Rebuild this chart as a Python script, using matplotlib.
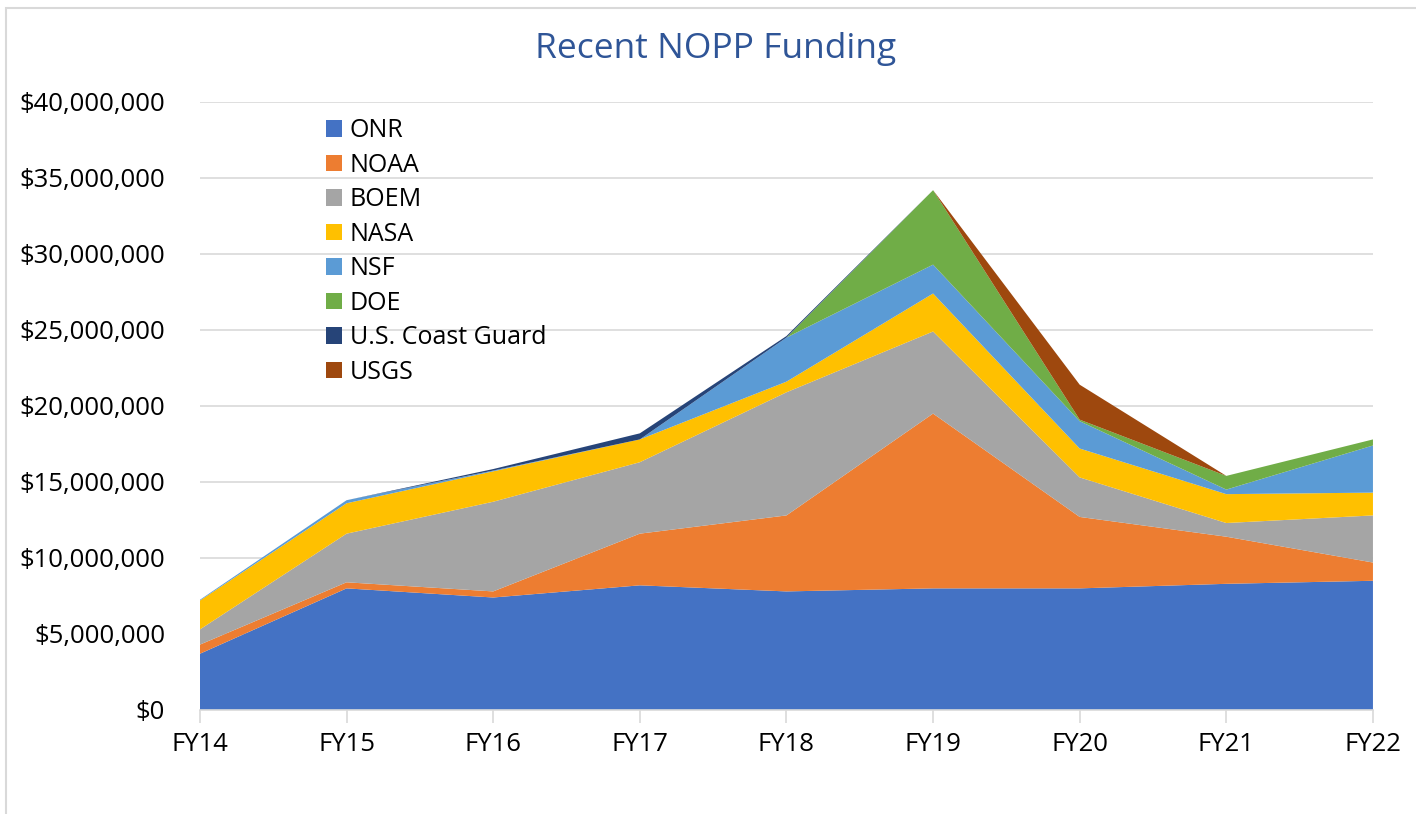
import matplotlib.pyplot as plt
from matplotlib.ticker import FuncFormatter, MultipleLocator
from matplotlib.patches import Rectangle

plt.rcParams['font.family'] = ['Open Sans', 'DejaVu Sans']

years = ['FY14', 'FY15', 'FY16', 'FY17', 'FY18', 'FY19', 'FY20', 'FY21', 'FY22']

# funding per agency, millions of dollars
onr = [3.7, 8.0, 7.4, 8.2, 7.8, 8.0, 8.0, 8.3, 8.5]
noaa = [0.6, 0.4, 0.4, 3.4, 5.0, 11.5, 4.7, 3.1, 1.2]
boem = [1.0, 3.2, 5.9, 4.7, 8.1, 5.4, 2.6, 0.9, 3.1]
nasa = [1.9, 2.0, 2.0, 1.5, 0.7, 2.5, 1.9, 1.9, 1.5]
nsf = [0.05, 0.2, 0.05, 0.0, 2.9, 1.9, 1.8, 0.3, 3.1]
doe = [0.0, 0.0, 0.0, 0.0, 0.0, 4.9, 0.1, 0.9, 0.4]
uscg = [0.0, 0.0, 0.1, 0.4, 0.1, 0.0, 0.0, 0.0, 0.0]
usgs = [0.0, 0.0, 0.0, 0.0, 0.0, 0.0, 2.3, 0.0, 0.0]

labels = ['ONR', 'NOAA', 'BOEM', 'NASA', 'NSF', 'DOE', 'U.S. Coast Guard', 'USGS']
colors = ['#4472C4', '#ED7D31', '#A5A5A5', '#FFC000', '#5B9BD5', '#70AD47', '#264478', '#9E480E']

series = [onr, noaa, boem, nasa, nsf, doe, uscg, usgs]
series = [[v * 1e6 for v in s] for s in series]
x = list(range(len(years)))

fig = plt.figure(figsize=(14.16, 8.14), dpi=100)
fig.patches.append(Rectangle((0.004, -0.01), 1.2, 1.0, transform=fig.transFigure,
                             fill=False, edgecolor='#D9D9D9', linewidth=1.5))
ax = fig.add_axes([0.1412, 0.1278, 0.8284, 0.7469])

ax.stackplot(x, *series, labels=labels, colors=colors, linewidth=0, zorder=2)

ax.set_xlim(0, 8)
ax.set_ylim(0, 40e6)
ax.yaxis.set_major_locator(MultipleLocator(5e6))
ax.yaxis.set_major_formatter(FuncFormatter(lambda v, p: '${:,.0f}'.format(v)))
ax.set_xticks(x)
ax.set_xticklabels(years)
ax.grid(axis='y', color='#D9D9D9', linewidth=1.2, zorder=0)
ax.set_axisbelow(True)

for s in ['top', 'right', 'left']:
    ax.spines[s].set_visible(False)
ax.spines['bottom'].set_color('#D9D9D9')
ax.spines['bottom'].set_linewidth(1.2)
ax.tick_params(axis='y', length=0, labelsize=18.5, pad=25, colors='black')
ax.tick_params(axis='x', length=9, width=1.2, color='#D9D9D9', labelsize=18.5, pad=7)

fig.text(0.505, 0.94, 'Recent NOPP Funding', ha='center', va='center',
         fontsize=25.5, color='#2F5597')

leg = ax.legend(loc='upper left', bbox_to_anchor=(0.088, 1.01), frameon=False,
                fontsize=18, handlelength=0.65, handleheight=0.65,
                handletextpad=0.32, labelspacing=0.38)

fig.savefig('out.png', dpi=100)
